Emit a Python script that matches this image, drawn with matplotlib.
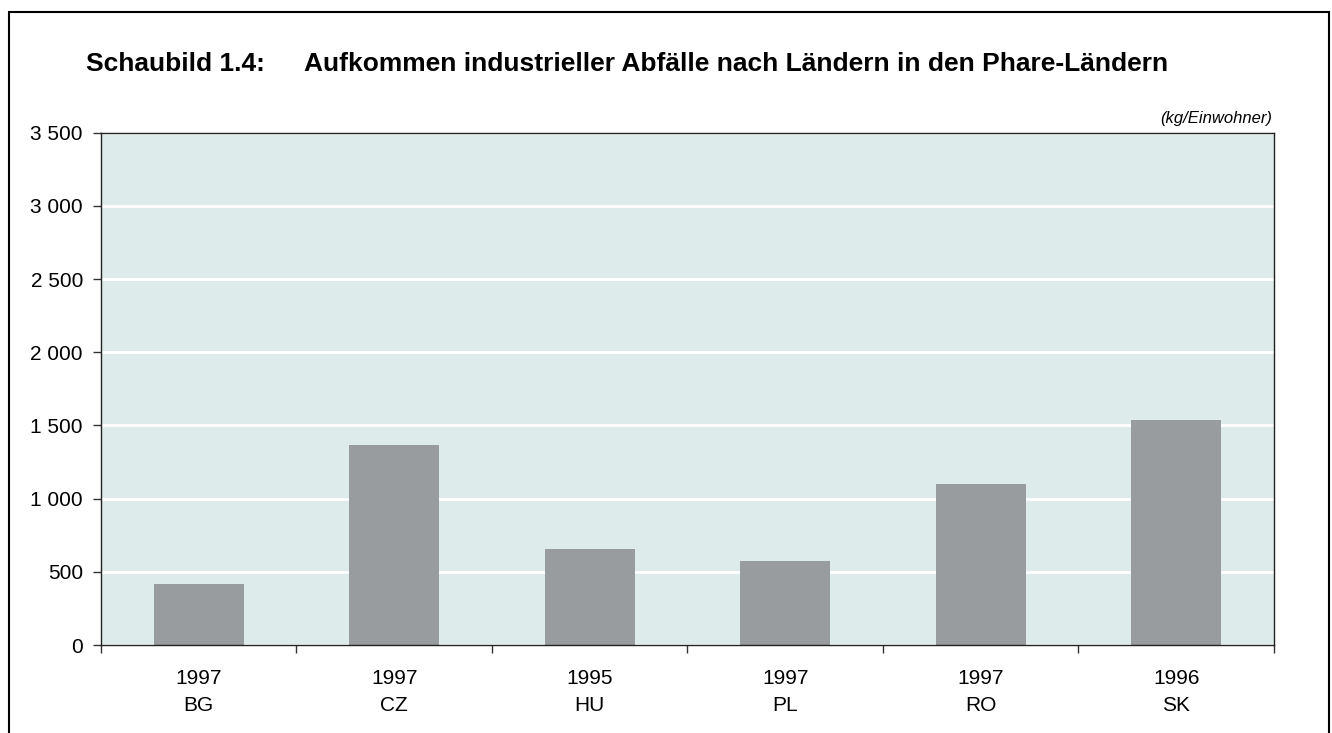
import matplotlib
matplotlib.use("Agg")
import matplotlib.pyplot as plt
from matplotlib.patches import Rectangle

plt.rcParams['font.family'] = ['Liberation Sans', 'DejaVu Sans']

# data (kg per inhabitant)
countries = ["BG", "CZ", "HU", "PL", "RO", "SK"]
years = ["1997", "1997", "1995", "1997", "1997", "1996"]
waste = [417, 1366, 656, 574, 1100, 1537]
yticks = [0, 500, 1000, 1500, 2000, 2500, 3000, 3500]

fig = plt.figure(figsize=(13.32, 7.33), dpi=100)
ax = fig.add_axes([0.0758, 0.1200, 0.8806, 0.6990])

ax.set_facecolor("#DDECEA")
ax.set_axisbelow(True)
ax.grid(axis="y", color="white", linewidth=2)

pos = list(range(len(countries)))
ax.bar(pos, waste, width=0.46, color="#989C9E", zorder=2)

ax.set_xlim(-0.5, len(countries) - 0.5)
ax.set_ylim(0, 3500)

ax.set_yticks(yticks)
ax.set_yticklabels([f"{v:,}".replace(",", " ") for v in yticks], fontsize=15)
ax.tick_params(axis="y", length=6, width=1, pad=7, color="#333333")

# ticks sit between categories, labels in the middle
ax.set_xticks([p - 0.5 for p in pos] + [len(countries) - 0.5])
ax.set_xticklabels([])
ax.set_xticks(pos, minor=True)
ax.set_xticklabels([y + "\n" + c for y, c in zip(years, countries)],
                   minor=True, fontsize=15, linespacing=1.55)
ax.tick_params(axis="x", which="major", length=6, width=1, color="#333333")
ax.tick_params(axis="x", which="minor", length=0, pad=17)

for s in ax.spines.values():
    s.set_color("#222222")
    s.set_linewidth(1)

fig.text(86 / 1332, 1 - 71 / 733, "Schaubild 1.4:", fontsize=19,
         fontweight="bold", va="baseline", ha="left")
fig.text(304 / 1332, 1 - 71 / 733,
         "Aufkommen industrieller Abfälle nach Ländern in den Phare-Ländern",
         fontsize=19, fontweight="bold", va="baseline", ha="left")
fig.text(1272 / 1332, 1 - 123 / 733, "(kg/Einwohner)", fontsize=12,
         style="italic", ha="right", va="baseline")

# outer frame, open at the bottom edge of the picture
fig.patches.append(Rectangle((9 / 1332, -0.05), 1320 / 1332, 1.05 - 12 / 733,
                             transform=fig.transFigure, fill=False,
                             edgecolor="black", linewidth=1.5))

fig.savefig("out.png", dpi=100)
